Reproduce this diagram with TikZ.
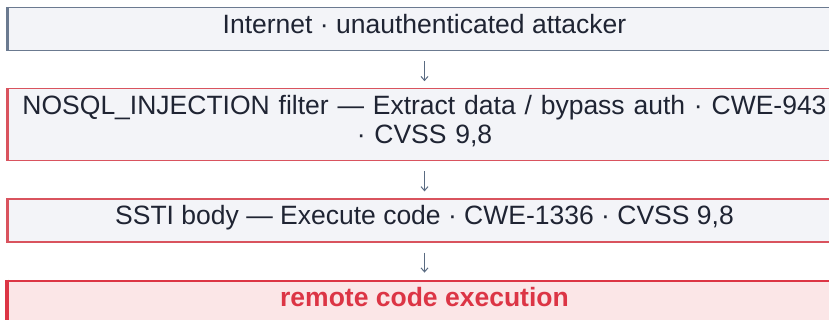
\documentclass[tikz,border=0pt]{standalone}
\usepackage{fontspec}
\setmainfont{Liberation Sans}
\usetikzlibrary{positioning,arrows.meta}

\definecolor{slateedge}{HTML}{6B7A90}
\definecolor{paleslate}{HTML}{F3F4F8}
\definecolor{inktext}{HTML}{1F2433}
\definecolor{riskedge}{HTML}{D9535E}
\definecolor{impactred}{HTML}{DC3545}
\definecolor{impactfill}{HTML}{FBE6E7}
\definecolor{arrowgray}{HTML}{5A6B82}

\tikzset{
    stage/.style={rectangle,draw=slateedge,fill=paleslate,line width=1.2pt,
        minimum width=833pt,inner xsep=6pt,inner ysep=7pt,
        text height=19pt,text depth=10pt,text=inktext,
        font=\fontsize{26.5}{29}\selectfont},
    risky/.style={stage,draw=riskedge},
    impact/.style={stage,draw=impactred,fill=impactfill,line width=2pt,
        text=impactred,font=\fontsize{26.5}{29}\selectfont\bfseries},
    flow/.style={arrowgray,line width=1pt,-{Straight Barb[length=4pt,width=7pt]},
        shorten <=10pt,shorten >=7pt}
}

\begin{document}
\begin{tikzpicture}
    \useasboundingbox (0,0) rectangle (829pt,-320pt);
    % attack chain, top to bottom
    \node [stage,anchor=north] (inet) at (424.5pt,-7pt) {Internet · unauthenticated attacker};
    \node [risky,below=37pt of inet,text width=821pt,align=center,text depth=39pt] (nosql)
        {NOSQL\_INJECTION filter — Extract data / bypass auth · CWE-943\\ · CVSS 9,8};
    \node [risky,below=37pt of nosql] (ssti) {SSTI body — Execute code · CWE-1336 · CVSS 9,8};
    \node [impact,below=37pt of ssti] (rce) {remote code execution};
    % thicker left edges
    \foreach \n/\c/\w in {inet/slateedge/3pt, nosql/riskedge/3pt, ssti/riskedge/3pt, rce/impactred/3.5pt}
        \draw [\c,line width=\w] (\n.north west) -- (\n.south west);
    \draw [flow] (inet) -- (nosql);
    \draw [flow] (nosql) -- (ssti);
    \draw [flow] (ssti) -- (rce);
\end{tikzpicture}
\end{document}
